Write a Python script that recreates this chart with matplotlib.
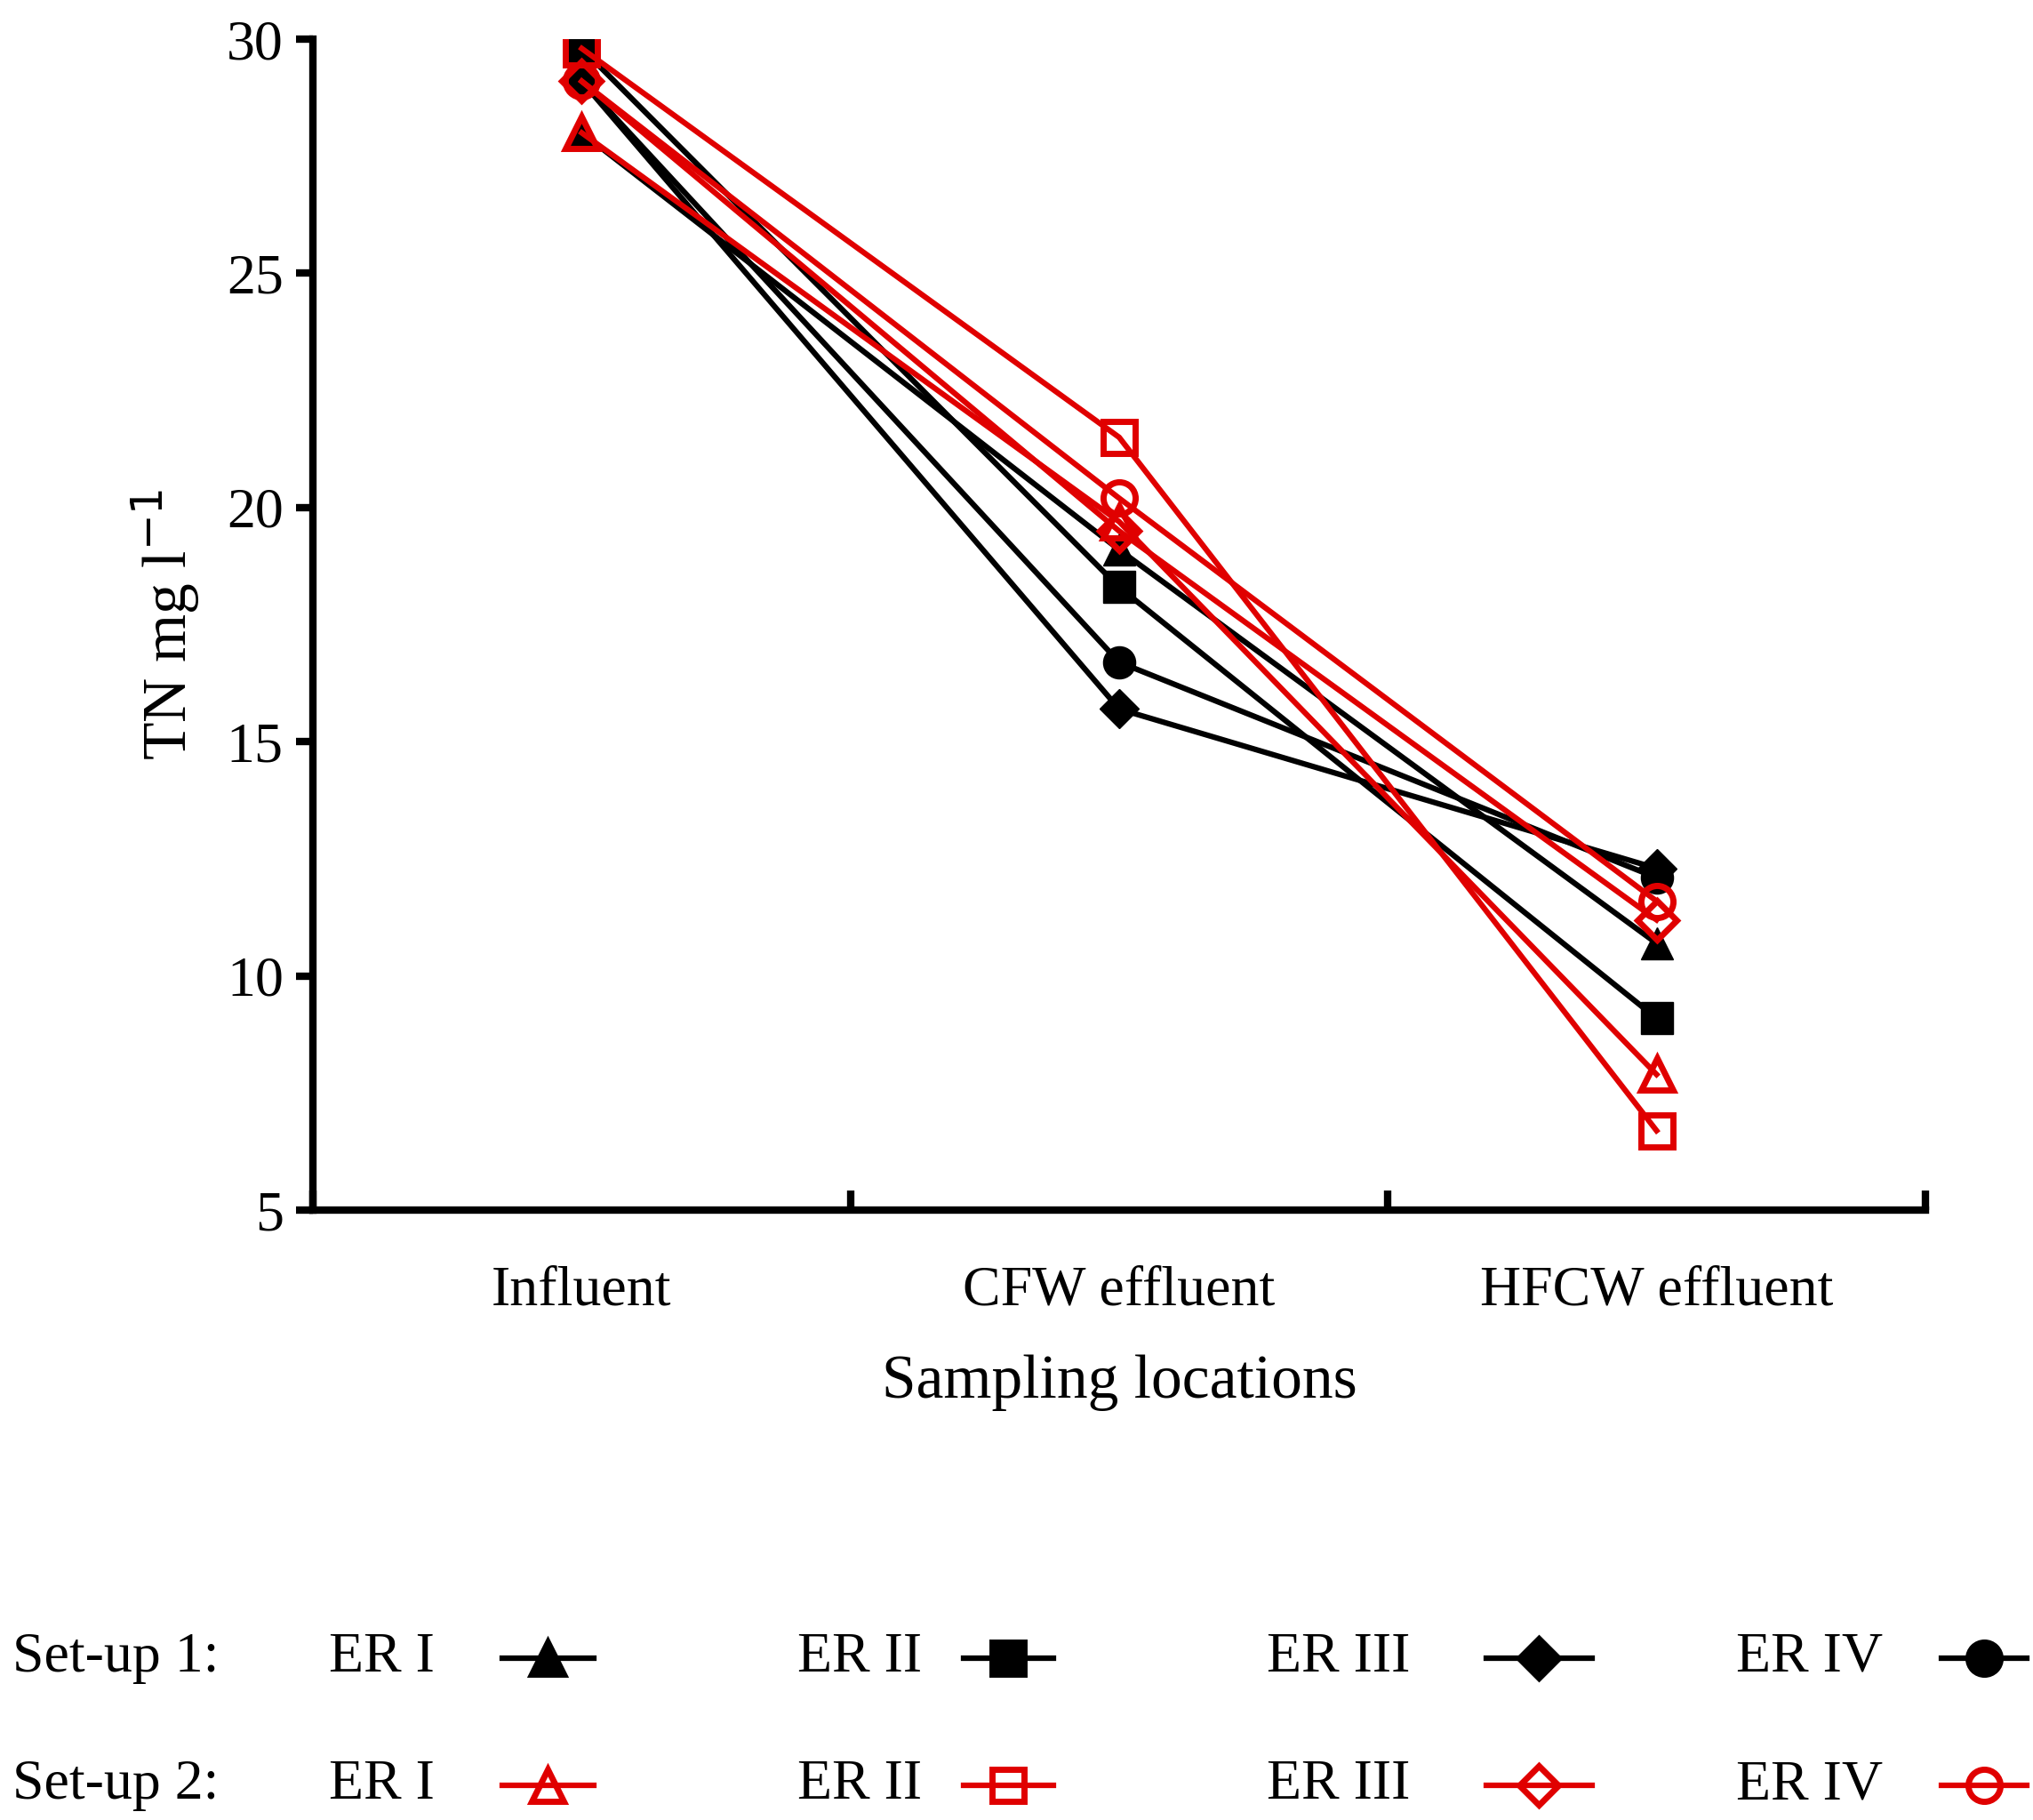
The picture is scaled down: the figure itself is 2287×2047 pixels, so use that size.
import matplotlib.pyplot as plt
from matplotlib.lines import Line2D

plt.rcParams['font.family'] = ['Liberation Serif', 'DejaVu Serif']

locations = ['Influent', 'CFW effluent', 'HFCW effluent']
series = ['ER I', 'ER II', 'ER III', 'ER IV']
markers = ['^', 's', 'D', 'o']
setup1 = {
    'ER I': [28.0, 19.1, 10.7],
    'ER II': [29.8, 18.3, 9.1],
    'ER III': [29.1, 15.7, 12.3],
    'ER IV': [29.1, 16.7, 12.1],
}
setup2 = {
    'ER I': [28.0, 19.7, 7.9],
    'ER II': [29.8, 21.5, 6.7],
    'ER III': [29.1, 19.5, 11.2],
    'ER IV': [29.1, 20.2, 11.6],
}
red = '#e00000'

fig = plt.figure(figsize=(22.87, 20.47), dpi=100)
ax = fig.add_axes([0.154, 0.335, 0.793, 0.6435])
xs = [0.5, 1.5, 2.5]

# set-up 1 en noir, plein ; set-up 2 en rouge, vide
for s, m in zip(series, markers):
    ax.plot(xs, setup1[s], color='black', lw=4.5, marker=m, ms=26 if m != 'D' else 22,
            mfc='black', mec='black')
for s, m in zip(series, markers):
    ax.plot(xs, setup2[s], color=red, lw=4.5, marker=m, ms=26 if m != 'D' else 22,
            mfc='none', mec=red, mew=5)

ax.set_xlim(0, 3)
ax.set_ylim(5, 30)
ax.set_yticks([5, 10, 15, 20, 25, 30])
ax.set_xticks([0, 1, 2, 3])
ax.set_xticklabels([])
ax.set_xticks(xs, minor=True)
ax.set_xticklabels(locations, minor=True)
ax.tick_params(axis='x', which='minor', length=0, pad=45, labelsize=46)
ax.tick_params(axis='x', which='major', direction='in', length=16, width=6)
ax.tick_params(axis='y', direction='out', length=14, width=6, labelsize=46, pad=10)
for sp in ['top', 'right']:
    ax.spines[sp].set_visible(False)
for sp in ['left', 'bottom']:
    ax.spines[sp].set_linewidth(6)

ax.set_xlabel('Sampling locations', fontsize=50, labelpad=30)
ax.set_ylabel('TN mg l$^{-1}$', fontsize=50, labelpad=20)

# légende faite à la main
rows = [(0.089, 'Set-up 1:', 'black', 'black'), (0.019, 'Set-up 2:', red, 'none')]
text_x = [0.162, 0.392, 0.623, 0.854]
line_x = [(0.247, 0.292), (0.474, 0.518), (0.731, 0.783), (0.955, 0.997)]
for y, label, c, fc in rows:
    fig.text(0.006, y, label, fontsize=46, va='center')
    for s, m, tx, (x0, x1) in zip(series, markers, text_x, line_x):
        fig.text(tx, y, s, fontsize=46, va='center')
        fig.add_artist(Line2D([x0, x1], [y, y], color=c, lw=4.5))
        fig.add_artist(Line2D([(x0 + x1) / 2], [y], color=c, marker=m,
                              ms=26 if m != 'D' else 22, mfc=fc, mec=c, mew=5))

fig.savefig('out.png', dpi=100)
